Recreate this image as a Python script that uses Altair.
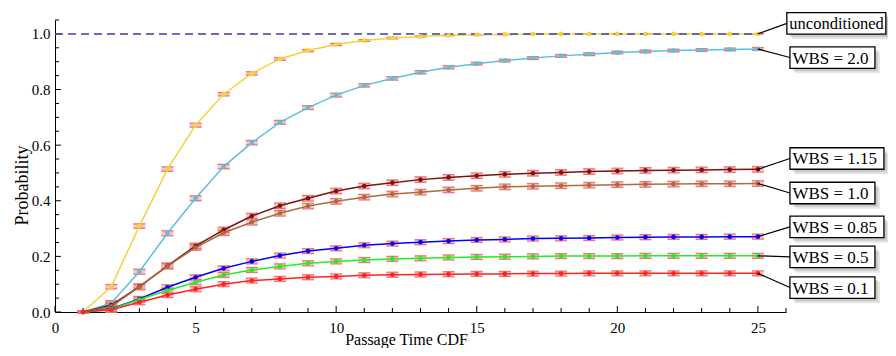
import altair as alt
import pandas as pd

# ---------------- data ----------------
x_vals = [1, 2, 3, 4, 5, 6, 7, 8, 9, 10, 11, 12, 13, 14, 15, 16, 17, 18, 19, 20, 21, 22, 23, 24, 25]

series_names = ["unconditioned", "WBS = 2.0", "WBS = 1.15", "WBS = 1.0",
                "WBS = 0.85", "WBS = 0.5", "WBS = 0.1"]
series_colors = ["#f4d23c", "#5bbfdd", "#7d1212", "#a86e3e",
                 "#0000ff", "#22ee22", "#ff2222"]

p_uncond = [0.0, 0.091, 0.309, 0.514, 0.672, 0.783, 0.858, 0.910, 0.940, 0.962, 0.976, 0.985, 0.991,
            0.995, 0.997, 0.998, 0.999, 1.0, 1.0, 1.0, 1.0, 1.0, 1.0, 1.0, 1.0]
p_wbs20 = [0.0, 0.032, 0.145, 0.283, 0.409, 0.523, 0.609, 0.682, 0.735, 0.780, 0.815, 0.840, 0.862,
           0.880, 0.893, 0.904, 0.913, 0.921, 0.927, 0.933, 0.937, 0.940, 0.942, 0.944, 0.946]
p_wbs115 = [0.0, 0.025, 0.091, 0.166, 0.238, 0.295, 0.345, 0.382, 0.409, 0.435, 0.453, 0.465, 0.476,
            0.484, 0.490, 0.495, 0.499, 0.502, 0.505, 0.507, 0.509, 0.510, 0.511, 0.512, 0.513]
p_wbs10 = [0.0, 0.020, 0.090, 0.165, 0.232, 0.285, 0.323, 0.355, 0.381, 0.398, 0.413, 0.424, 0.431,
           0.439, 0.445, 0.450, 0.452, 0.454, 0.456, 0.458, 0.459, 0.460, 0.461, 0.461, 0.462]
p_wbs085 = [0.0, 0.012, 0.047, 0.089, 0.125, 0.157, 0.182, 0.203, 0.219, 0.229, 0.240, 0.246, 0.251,
            0.255, 0.259, 0.261, 0.264, 0.265, 0.266, 0.268, 0.269, 0.270, 0.270, 0.271, 0.271]
p_wbs05 = [0.0, 0.010, 0.045, 0.077, 0.107, 0.133, 0.151, 0.164, 0.175, 0.182, 0.187, 0.191, 0.193,
           0.196, 0.198, 0.199, 0.200, 0.201, 0.201, 0.201, 0.202, 0.202, 0.202, 0.202, 0.202]
p_wbs01 = [0.0, 0.008, 0.035, 0.061, 0.082, 0.100, 0.113, 0.119, 0.125, 0.128, 0.132, 0.134, 0.135,
           0.136, 0.137, 0.137, 0.138, 0.138, 0.139, 0.139, 0.139, 0.139, 0.139, 0.139, 0.139]

e_uncond = [0.004, 0.008, 0.008, 0.008, 0.007, 0.006, 0.006, 0.005, 0.004, 0.004, 0.003, 0.003, 0.002,
            0.002, 0.001, 0.001, 0.001, 0.0, 0.0, 0.0, 0.0, 0.0, 0.0, 0.0, 0.0]
e_wbs20 = [0.004, 0.009, 0.009, 0.009, 0.009, 0.008, 0.008, 0.007, 0.007, 0.007, 0.006, 0.006, 0.006,
           0.006, 0.005, 0.005, 0.005, 0.005, 0.005, 0.005, 0.005, 0.005, 0.005, 0.005, 0.005]
e_wbs115 = [0.004, 0.010, 0.010, 0.010, 0.010, 0.010, 0.010, 0.010, 0.010, 0.010, 0.010, 0.010, 0.010,
            0.010, 0.010, 0.010, 0.010, 0.010, 0.010, 0.010, 0.010, 0.010, 0.010, 0.010, 0.010]
e_wbs10 = [0.004, 0.010, 0.010, 0.010, 0.010, 0.010, 0.010, 0.010, 0.010, 0.010, 0.010, 0.010, 0.010,
           0.010, 0.010, 0.010, 0.010, 0.010, 0.010, 0.010, 0.010, 0.010, 0.010, 0.010, 0.010]
e_wbs085 = [0.004, 0.009, 0.009, 0.009, 0.009, 0.009, 0.009, 0.009, 0.009, 0.009, 0.009, 0.009, 0.009,
            0.009, 0.009, 0.009, 0.009, 0.009, 0.009, 0.009, 0.009, 0.009, 0.009, 0.009, 0.009]
e_wbs05 = [0.004, 0.009, 0.009, 0.009, 0.009, 0.009, 0.009, 0.009, 0.009, 0.009, 0.009, 0.009, 0.009,
           0.009, 0.009, 0.009, 0.009, 0.009, 0.009, 0.009, 0.009, 0.009, 0.009, 0.009, 0.009]
e_wbs01 = [0.004, 0.009, 0.009, 0.009, 0.009, 0.009, 0.009, 0.009, 0.009, 0.009, 0.009, 0.009, 0.009,
           0.009, 0.009, 0.009, 0.009, 0.009, 0.009, 0.009, 0.009, 0.009, 0.009, 0.009, 0.009]

values_by_series = [p_uncond, p_wbs20, p_wbs115, p_wbs10, p_wbs085, p_wbs05, p_wbs01]
errors_by_series = [e_uncond, e_wbs20, e_wbs115, e_wbs10, e_wbs085, e_wbs05, e_wbs01]

# label boxes: left edge (x data), centre (y data), box width (px), font size
label_left = [26.03, 26.14, 26.14, 26.14, 26.14, 26.14, 26.14]
label_center = [1.038, 0.915, 0.552, 0.428, 0.306, 0.198, 0.088]
label_width_px = [99, 85, 94, 85, 94, 85, 85]
label_font_px = [16.5, 17, 17, 17, 17, 17, 17]

ref_x = [0, 25]
ref_y = [1.0, 1.0]

x_major = [0, 5, 10, 15, 20, 25]
x_minor = [1, 2, 3, 4, 6, 7, 8, 9, 11, 12, 13, 14, 16, 17, 18, 19, 21, 22, 23, 24, 26]
y_major = [0.0, 0.2, 0.4, 0.6, 0.8, 1.0]
y_minor = [0.05, 0.1, 0.15, 0.25, 0.3, 0.35, 0.45, 0.5, 0.55, 0.65, 0.7, 0.75, 0.85, 0.9, 0.95, 1.05]

# ---------------- layout ----------------
W, H = 731, 292
X_DOM, Y_DOM = [0, 26], [0, 1.05]
px_x = W / (X_DOM[1] - X_DOM[0])
px_y = H / (Y_DOM[1] - Y_DOM[0])
BOX_HALF_H = 10.75
FONT = "Liberation Serif"

rows = []
for name, vals, errs in zip(series_names, values_by_series, errors_by_series):
    for x, v, e in zip(x_vals, vals, errs):
        rows.append({"series": name, "x": x, "p": v, "lo": v - e, "hi": v + e})
df = pd.DataFrame(rows)

lab = pd.DataFrame({
    "series": series_names,
    "lx": label_left,
    "ly": label_center,
    "fs": label_font_px,
    "rx": [l + w / px_x for l, w in zip(label_left, label_width_px)],
    "lo": [c - BOX_HALF_H / px_y for c in label_center],
    "hi": [c + BOX_HALF_H / px_y for c in label_center],
    "ex": [x_vals[-1]] * len(series_names),
    "ey": [v[-1] for v in values_by_series],
})

ref_df = pd.DataFrame({"x": ref_x, "y": ref_y})

xscale = alt.Scale(domain=X_DOM, nice=False, zero=False)
yscale = alt.Scale(domain=Y_DOM, nice=False, zero=False)
xaxis = alt.Axis(values=x_major, format="d", title="Passage Time CDF", labelPadding=8,
                 labelFlush=False,
                 titleX=351, titleY=32.5, titleBaseline="alphabetic", titleAlign="center",
                 titleFontSize=16)
yaxis = alt.Axis(values=y_major, format=".1f", title="Probability", labelPadding=5,
                 labelFlush=False,
                 titleX=-28, titleY=165, titleAngle=270, titleBaseline="alphabetic",
                 titleAlign="center", titleFontSize=18)


def X(f):
    return alt.X(f, type="quantitative", scale=xscale, axis=xaxis)


def Y(f):
    return alt.Y(f, type="quantitative", scale=yscale, axis=yaxis)


color = alt.Color("series:N", scale=alt.Scale(domain=series_names, range=series_colors), legend=None)

base = alt.Chart(df)

err_box = base.mark_rect(xOffset=-6, x2Offset=6, color="#f28a8a", opacity=0.5).encode(
    x=X("x"), x2="x", y=Y("lo"), y2="hi")
cap_lo = base.mark_rule(xOffset=-6, x2Offset=6, color="#ef7575", strokeWidth=1.3).encode(
    x=X("x"), x2="x", y=Y("lo"))
cap_hi = base.mark_rule(xOffset=-6, x2Offset=6, color="#ef7575", strokeWidth=1.3).encode(
    x=X("x"), x2="x", y=Y("hi"))

lines = base.mark_line(strokeWidth=1.5).encode(x=X("x"), y=Y("p"), color=color, detail="series:N",
                                               order="x:Q")
pts = base.mark_circle(size=22, opacity=1).encode(x=X("x"), y=Y("p"), color=color)

ref = alt.Chart(ref_df).mark_line(strokeDash=[8, 5], strokeWidth=2, color="#4a4aa6", opacity=0.8).encode(
    x=X("x"), y=Y("y"))

# inward ticks
ytm = alt.Chart(pd.DataFrame({"v": y_major})).mark_rule(color="black", strokeWidth=1).encode(
    y=Y("v"), x=alt.value(0), x2=alt.value(6))
ytn = alt.Chart(pd.DataFrame({"v": y_minor})).mark_rule(color="black", strokeWidth=1).encode(
    y=Y("v"), x=alt.value(0), x2=alt.value(4))
xtm = alt.Chart(pd.DataFrame({"v": x_major})).mark_rule(color="black", strokeWidth=1).encode(
    x=X("v"), y=alt.value(H), y2=alt.value(H - 6))
xtn = alt.Chart(pd.DataFrame({"v": x_minor})).mark_rule(color="black", strokeWidth=1).encode(
    x=X("v"), y=alt.value(H), y2=alt.value(H - 4))

lb = alt.Chart(lab)
leader = lb.mark_rule(color="black", strokeWidth=1.2).encode(x=X("ex"), y=Y("ey"), x2="lx", y2="ly")
shadow1 = lb.mark_rect(color="#000000", opacity=0.10, xOffset=5, x2Offset=5, yOffset=5, y2Offset=5).encode(
    x=X("lx"), x2="rx", y=Y("lo"), y2="hi")
shadow2 = lb.mark_rect(color="#000000", opacity=0.12, xOffset=3, x2Offset=3, yOffset=3, y2Offset=3).encode(
    x=X("lx"), x2="rx", y=Y("lo"), y2="hi")
box = lb.mark_rect(fill="white", stroke="black", strokeWidth=1.3).encode(
    x=X("lx"), x2="rx", y=Y("lo"), y2="hi")
txt = lb.mark_text(align="left", baseline="middle", dx=2.5, dy=1, font=FONT, color="black").encode(
    x=X("lx"), y=Y("ly"), text="series:N", size=alt.Size("fs:Q", scale=None))

chart = alt.layer(
    ytm, ytn, xtm, xtn,
    err_box, cap_lo, cap_hi, lines, ref, pts,
    leader, shadow1, shadow2, box, txt,
).properties(
    width=W, height=H,
    autosize=alt.AutoSizeParams(type="none"),
    padding={"left": 47, "top": 12, "right": 102, "bottom": 36},
).configure_view(stroke=None).configure_axis(
    grid=False, ticks=False, tickSize=0, domainColor="black", domainWidth=1,
    labelFont=FONT, labelFontSize=15, labelColor="black",
    titleFont=FONT, titleFontWeight="normal", titleColor="black",
)

chart.save("out.html", embed_options={"renderer": "svg", "actions": False})
